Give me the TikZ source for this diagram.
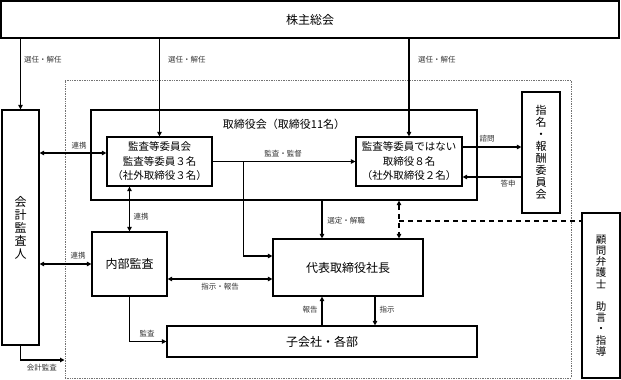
\documentclass[tikz,border=0pt]{standalone}
\usepackage{fontspec}
\setmainfont{Noto Sans CJK JP}
\usetikzlibrary{arrows.meta,positioning}
\tikzset{
  box/.style={draw, line width=1.2pt, inner sep=0pt, align=center,
    font=\fontsize{12}{14}\selectfont},
  outer/.style={draw=black!55, line width=1pt, dash pattern=on 1pt off 0.7pt,
    inner sep=0pt},
  lbl/.style={font=\fontsize{7.5}{8}\selectfont, inner sep=0pt, text=black!80},
  arr/.style={line width=1.2pt, -{Triangle[length=4.5pt,width=4.5pt]}},
  darr/.style={line width=1.2pt,
    {Triangle[length=4.5pt,width=4.5pt]}-{Triangle[length=4.5pt,width=4.5pt]}},
  dline/.style={line width=1.2pt, dash pattern=on 5pt off 4pt},
}
\begin{document}
\begin{tikzpicture}[x=1pt,y=-1pt]
    \useasboundingbox (0,0) rectangle (621,380);

    % boxes
    \node[box, minimum width=618pt, minimum height=37pt] (S) at (310,19.5) {株主総会};
    \node[outer, minimum width=506pt, minimum height=298pt] (F) at (318,229) {};
    \node[box, minimum width=37pt, minimum height=235pt, font=\fontsize{12}{13}\selectfont] (K) at (20.5,227.5) {会\\計\\監\\査\\人};
    \node[box, minimum width=386pt, minimum height=90pt] (B) at (284,155) {};
    \node[font=\fontsize{11}{13}\selectfont, inner sep=0pt] (Bt) at (284,124) {取締役会（取締役11名）};
    \node[box, minimum width=105pt, minimum height=49pt, font=\fontsize{10.5}{14.5}\selectfont] (A) at (159.5,161.5) {監査等委員会\\監査等委員３名\\（社外取締役３名）};
    \node[box, minimum width=106pt, minimum height=49pt, font=\fontsize{10.5}{14.5}\selectfont] (H) at (409,161.5) {監査等委員ではない\\取締役８名\\（社外取締役２名）};
    \node[box, minimum width=38pt, minimum height=121pt, font=\fontsize{11}{12}\selectfont] (N) at (541,152.5) {指\\名\\・\\報\\酬\\委\\員\\会};
    \node[box, minimum width=75pt, minimum height=64pt] (I) at (129.5,264) {内部監査};
    \node[box, minimum width=150pt, minimum height=57pt] (P) at (348,267.5) {代表取締役社長};
    \node[box, minimum width=310pt, minimum height=31pt] (C) at (322,341.5) {子会社・各部};
    \node[box, minimum width=38pt, minimum height=165pt, font=\fontsize{10.5}{11.2}\selectfont] (L) at (601,295.5) {顧\\問\\弁\\護\\士\\　\\助\\言\\・\\指\\導};

    % shareholders
    \draw[arr] (S.south -| K) -- (K.north);
    \draw[arr] (S.south -| A) -- (A.north);
    \draw[arr] (S.south -| H) -- (H.north);
    \node[lbl, anchor=west] (s1) at (24,60) {選任・解任};
    \node[lbl, anchor=west] (s2) at (168,60) {選任・解任};
    \node[lbl, anchor=west] (s3) at (418,60) {選任・解任};

    % auditors
    \draw[darr] (K.east |- 0,153) -- (A.west |- 0,153);
    \node[lbl] (r1) at (79,146) {連携};
    \draw[darr] (K.east |- I) -- (I.west);
    \node[lbl] (r2) at (78,256) {連携};
    \draw[darr] (A.south -| I) -- (I.north);
    \node[lbl] (r3) at (141,217) {連携};
    \draw[arr] (K.south) |- (F.west |- 0,360);
    \node[lbl] (r4) at (42,368) {会計監査};

    % board
    \draw[arr] (A.east) -- (H.west);
    \node[lbl] (m1) at (283,154) {監査・監督};
    \draw[arr] ([xshift=31pt]A.east) |- ([yshift=11.5pt]P.west);
    \draw[arr] (H.east |- 0,147) -- (N.west |- 0,147);
    \node[lbl] (m2) at (487,139) {諮問};
    \draw[arr] (N.west |- 0,177) -- (H.east |- 0,177);
    \node[lbl] (m3) at (508,184) {答申};
    \draw[arr] (B.south -| C.north) -- (P.north -| C.north);
    \node[lbl] (m4) at (346,221) {選定・解職};

    % lawyer
    \draw[darr, dash pattern=on 5pt off 4pt] (B.south -| 399,0) -- (P.north -| 399,0);
    \draw[dline] (399,221) -- (L.west |- 399,221);

    % president
    \draw[darr] ([yshift=-15pt]I.east) -- ([yshift=-15pt]I.east -| P.west);
    \node[lbl] (p1) at (220,287) {指示・報告};
    \draw[arr] (I.south) |- (C.west);
    \node[lbl] (p2) at (147,334) {監査};
    \draw[arr] (C.north) -- (C.north |- P.south);
    \node[lbl] (p3) at (310,310) {報告};
    \draw[arr] (P.south -| 375,0) -- (C.north -| 375,0);
    \node[lbl] (p4) at (387,310) {指示};
\end{tikzpicture}
\end{document}
